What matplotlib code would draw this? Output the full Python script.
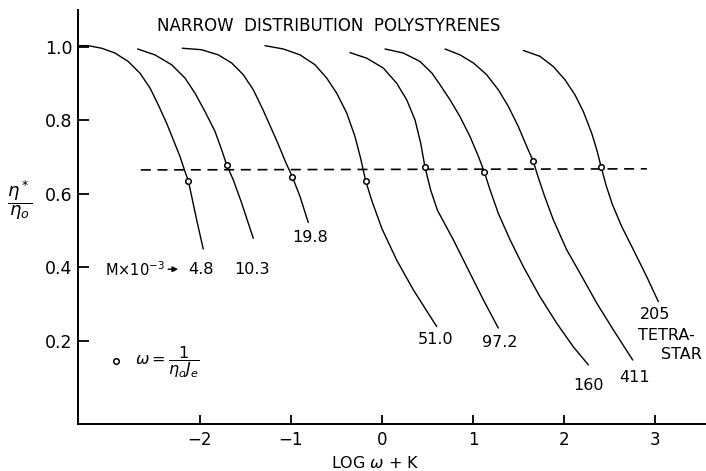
import numpy as np
import matplotlib.pyplot as plt

# curves (log w + K , eta*/eta0)
x48 = [-3.34, -3.227, -3.080, -2.934, -2.788, -2.659, -2.549, -2.458, -2.366, -2.293,
       -2.220, -2.165, -2.128, -2.091, -2.036, -1.964]
y48 = [1.003, 1.003, 0.996, 0.983, 0.960, 0.928, 0.888, 0.842, 0.792, 0.747,
       0.702, 0.661, 0.636, 0.593, 0.529, 0.450]

x103 = [-2.685, -2.495, -2.311, -2.165, -2.055, -1.945, -1.835, -1.762, -1.707,
        -1.634, -1.542, -1.414]
y103 = [0.994, 0.978, 0.951, 0.915, 0.874, 0.824, 0.770, 0.720, 0.679,
        0.638, 0.575, 0.479]

x198 = [-2.194, -1.982, -1.799, -1.652, -1.524, -1.414, -1.31, -1.22, -1.14,
        -1.055, -0.986, -0.901, -0.810]
y198 = [0.996, 0.992, 0.978, 0.956, 0.924, 0.883, 0.830, 0.780, 0.735,
        0.684, 0.647, 0.593, 0.522]

x510 = [-1.286, -1.084, -0.901, -0.736, -0.608, -0.498, -0.388, -0.297, -0.235,
        -0.179, -0.11, 0.0, 0.161, 0.344, 0.601]
y510 = [1.003, 0.994, 0.978, 0.951, 0.915, 0.874, 0.820, 0.756, 0.697,
        0.635, 0.580, 0.505, 0.420, 0.339, 0.239]

x972 = [-0.352, -0.168, 0.015, 0.161, 0.271, 0.363, 0.425, 0.473, 0.535, 0.61,
        0.784, 0.931, 1.113, 1.278]
y972 = [0.984, 0.969, 0.942, 0.901, 0.856, 0.801, 0.738, 0.672, 0.610, 0.555,
        0.475, 0.402, 0.312, 0.235]

x160 = [0.033, 0.234, 0.418, 0.55, 0.637, 0.747, 0.857, 0.967, 1.059, 1.125,
        1.187, 1.278, 1.407, 1.553, 1.736, 1.920, 2.102, 2.267]
y160 = [0.994, 0.983, 0.960, 0.928, 0.897, 0.856, 0.810, 0.756, 0.702, 0.659,
        0.611, 0.547, 0.475, 0.402, 0.320, 0.248, 0.184, 0.135]

x411 = [0.692, 0.857, 1.004, 1.150, 1.278, 1.388, 1.498, 1.590, 1.663, 1.710,
        1.783, 1.883, 2.029, 2.176, 2.359, 2.542, 2.755]
y411 = [0.994, 0.978, 0.956, 0.924, 0.883, 0.838, 0.783, 0.729, 0.688, 0.650,
        0.596, 0.529, 0.448, 0.384, 0.303, 0.230, 0.148]

x205 = [1.553, 1.736, 1.883, 2.011, 2.121, 2.212, 2.304, 2.362, 2.407, 2.460,
        2.530, 2.634, 2.762, 2.908, 3.036]
y205 = [0.990, 0.974, 0.946, 0.910, 0.869, 0.824, 0.765, 0.718, 0.674, 0.625,
        0.572, 0.511, 0.448, 0.375, 0.307]

# open circles, omega = 1/(eta0 Je)
cx = [-2.128, -1.707, -0.986, -0.179, 0.473, 1.125, 1.663, 2.407]
cy = [0.636, 0.679, 0.647, 0.635, 0.672, 0.659, 0.688, 0.674]

# dashed line
dx = [-2.65, 2.91]
dy = [0.665, 0.668]

xticks = [-2, -1, 0, 1, 2, 3]
xtick_labels = ["\u22122", "\u22121", "0", "1", "2", "3"]
yticks = [0.2, 0.4, 0.6, 0.8, 1.0]
ytick_labels = ["0.2", "0.4", "0.6", "0.8", "1.0"]

fig = plt.figure(figsize=(7.06, 4.71), dpi=100)
ax = fig.add_axes([78/706, 47/471, 1 - 78/706, (424 - 10)/471])

for xs, ys in [(x48, y48), (x103, y103), (x198, y198), (x510, y510),
               (x972, y972), (x160, y160), (x411, y411), (x205, y205)]:
    ax.plot(xs, ys, color="black", lw=1.0, solid_joinstyle="round", solid_capstyle="round")

ax.plot(dx, dy, color="black", lw=1.2, dashes=(6, 4))
ax.plot(cx, cy, "o", ms=4, mfc="white", mec="black", mew=1.1)

ax.set_xlim(-3.34, 3.56)
ax.set_ylim(-0.026, 1.10)
ax.spines["top"].set_visible(False)
ax.spines["right"].set_visible(False)
ax.spines["left"].set_linewidth(1.4)
ax.spines["bottom"].set_linewidth(1.4)
ax.set_xticks(xticks)
ax.set_xticklabels(xtick_labels)
ax.set_yticks(yticks)
ax.set_yticklabels(ytick_labels)
ax.tick_params(axis="x", direction="in", length=6.5, width=1.3, pad=5, labelsize=12)
ax.tick_params(axis="y", direction="in", length=8, width=1.3, pad=4, labelsize=12.5)

ax.set_xlabel(r"LOG $\omega$ + K", fontsize=11.5, va="center")
ax.xaxis.set_label_coords(0.473, -0.094)
ax.set_ylabel(r"$\dfrac{\eta^*}{\eta_o}$", fontsize=13, rotation=0, va="center", ha="center")
ax.yaxis.set_label_coords(-0.092, 0.541)

ax.text(-0.59, 1.057, "NARROW  DISTRIBUTION  POLYSTYRENES", ha="center", va="center", fontsize=12)

fs = 11.5
ax.text(-3.04, 0.393, r"M$\times$10$^{-3}$", ha="left", va="center", fontsize=10.5)
ax.annotate("", xy=(-2.21, 0.395), xytext=(-2.38, 0.395),
            arrowprops=dict(arrowstyle="-|>", color="black", lw=1.0, mutation_scale=8))
ax.text(-1.99, 0.393, "4.8", ha="center", va="center", fontsize=fs)
ax.text(-1.43, 0.393, "10.3", ha="center", va="center", fontsize=fs)
ax.text(-0.79, 0.48, "19.8", ha="center", va="center", fontsize=fs)
ax.text(0.59, 0.203, "51.0", ha="center", va="center", fontsize=fs)
ax.text(1.29, 0.195, "97.2", ha="center", va="center", fontsize=fs)
ax.text(2.27, 0.08, "160", ha="center", va="center", fontsize=fs)
ax.text(2.77, 0.10, "411", ha="center", va="center", fontsize=fs)
ax.text(2.835, 0.271, "205", ha="left", va="center", fontsize=fs)
ax.text(2.81, 0.216, "TETRA-", ha="left", va="center", fontsize=fs)
ax.text(3.52, 0.162, "STAR", ha="right", va="center", fontsize=fs)

ax.plot([-2.92], [0.146], "o", ms=4, mfc="white", mec="black", mew=1.1)
ax.text(-2.71, 0.143, r"$\omega = \dfrac{1}{\eta_o J_e}$", ha="left", va="center", fontsize=11.5)

fig.savefig("out.png", dpi=100)
